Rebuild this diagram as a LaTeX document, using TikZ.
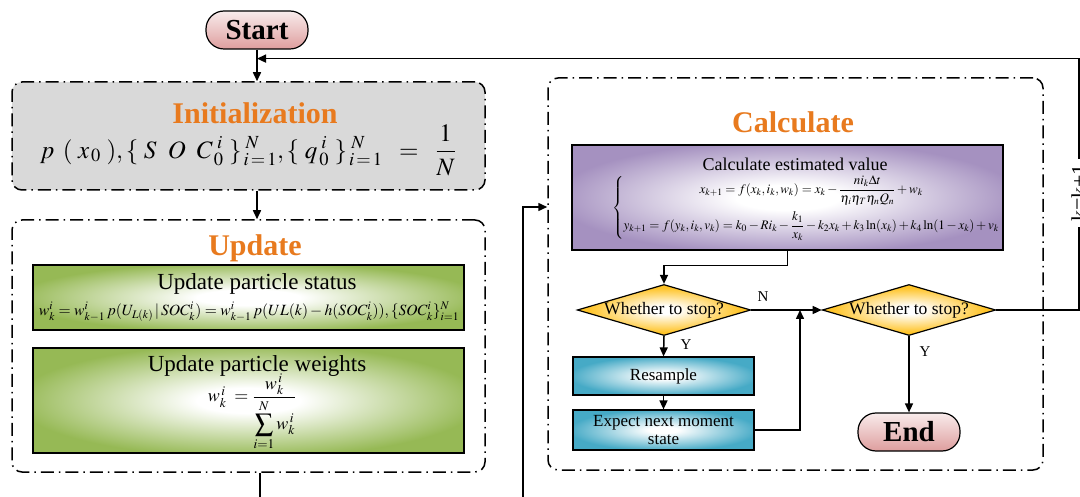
\documentclass[tikz,border=0pt]{standalone}
\usepackage{amsmath}
\usepackage{mathptmx}
\usepackage{fontspec}
\setmainfont{Liberation Serif}
\usepackage{tikz}
\usetikzlibrary{positioning, arrows.meta, shapes.geometric}
\definecolor{titleorange}{RGB}{232, 122, 30}
\definecolor{initgray}{RGB}{217, 217, 217}
\definecolor{leafgreen}{RGB}{150, 185, 85}
\definecolor{lilac}{RGB}{165, 145, 192}
\definecolor{seablue}{RGB}{70, 170, 198}
\definecolor{gold}{RGB}{255, 196, 40}
\definecolor{rosepink}{RGB}{222, 158, 158}
\pgfdeclareradialshading{glowgreen}{\pgfpointorigin}{color(0bp)=(white); color(6bp)=(white); color(27bp)=(leafgreen); color(100bp)=(leafgreen)}
\pgfdeclareradialshading{glowlilac}{\pgfpointorigin}{color(0bp)=(white); color(6bp)=(white); color(27bp)=(lilac); color(100bp)=(lilac)}
\pgfdeclareradialshading{glowblue}{\pgfpointorigin}{color(0bp)=(white); color(4bp)=(white); color(26bp)=(seablue); color(100bp)=(seablue)}
\pgfdeclareradialshading{glowgold}{\pgfpointorigin}{color(0bp)=(white); color(4bp)=(white); color(22bp)=(gold); color(100bp)=(gold)}

\tikzset{
  stage/.style={draw, line width=1.5pt, dash pattern=on 13pt off 5pt on 1.5pt off 5pt,
    rounded corners=10pt, inner sep=0pt},
  stagetitle/.style={text=titleorange, font=\fontsize{30}{32}\selectfont\bfseries},
  terminal/.style={draw, line width=1.2pt, rounded corners=18pt, top color=rosepink!20,
    bottom color=rosepink, minimum width=102pt, minimum height=38pt,
    font=\fontsize{29}{30}\selectfont\bfseries},
  stepgreen/.style={draw, line width=1.2pt, shade, shading=glowgreen, minimum width=431pt},
  steplilac/.style={draw, line width=1.2pt, shade, shading=glowlilac,
    minimum width=431pt, minimum height=105pt},
  stepblue/.style={draw, line width=1.2pt, shade, shading=glowblue,
    minimum width=181pt, inner sep=0pt, align=center, font=\fontsize{17}{19}\selectfont},
  query/.style={diamond, draw, line width=1.2pt, shade, shading=glowgold,
    aspect=3.4, inner sep=0pt, font=\fontsize{17.5}{19}\selectfont},
  answer/.style={font=\fontsize{15}{16}\selectfont},
  arr/.style={line width=1.5pt, -{Triangle[length=9pt, width=8pt]}},
  wire/.style={line width=1.5pt}
}

\begin{document}
\begin{tikzpicture}[x=1pt, y=1pt]
\path[use as bounding box] (0,0) rectangle (1080,496);
\clip (0,0) rectangle (1080,496);

% left column
\node[terminal] (start) at (257,466) {Start};
\node[stage, fill=initgray, minimum width=473pt, minimum height=108pt] (init) at (248.5,360) {};
\node[stagetitle] (initT) at (255,383) {Initialization};
\node[font=\fontsize{25}{27}\selectfont] (initF) at (248,346)
  {$p\;\,(\;x_{\,0}\;),\{\;S\;\;O\;\;C_{\,0}^{\;i}\;\}_{\,i\,=\,1}^{\;N},\{\;q_{\,0}^{\;i}\;\}_{\,i\,=\,1}^{\;N}\;\;=\;\;\dfrac{1}{N}$};

\node[stage, fill=white, minimum width=473pt, minimum height=252pt] (upd) at (248.5,150) {};
\node[stagetitle] (updT) at (255,248) {Update};
\node[stepgreen, minimum height=65pt] (sta) at (248.5,198.5) {};
\node[font=\fontsize{23}{25}\selectfont] (staT) at (257,212) {Update particle status};
\node[font=\fontsize{15.6}{17}\selectfont] (staF) at (249,184)
  {$w_k^i=w_{k-1}^i\,p(U_{L(k)}\,|\,SOC_k^i)=w_{k-1}^i\,p(UL(k)-h(SOC_k^i)),\{SOC_k^i\}_{i=1}^N$};
\node[stepgreen, minimum height=105pt] (wei) at (248.5,95.5) {};
\node[font=\fontsize{23}{25}\selectfont] (weiT) at (257,130) {Update particle weights};
\node[font=\fontsize{18}{20}\selectfont] (weiF) at (252,84)
  {$w_k^{\,i}\;=\dfrac{w_k^{\,i}}{\displaystyle\sum_{i=1}^{N}w_k^{\,i}}$};

% right column
\node[stage, fill=white, minimum width=495pt, minimum height=392pt] (calc) at (795.5,222) {};
\node[stagetitle] (calcT) at (793,374) {Calculate};
\node[steplilac] (est) at (787.5,298.5) {};
\node[font=\fontsize{18}{20}\selectfont] (estT) at (795,332) {Calculate estimated value};
\node[font=\fontsize{13}{14}\selectfont] (estF) at (806,288)
  {$\left\{\begin{array}{@{}c@{}}
    x_{k+1}=f(x_k,i_k,w_k)=x_k-\dfrac{n i_k\Delta t}{\eta_i\eta_T\eta_n Q_n}+w_k\\[14pt]
    y_{k+1}=f(y_k,i_k,v_k)=k_0-Ri_k-\dfrac{k_1}{x_k}-k_2x_k+k_3\ln(x_k)+k_4\ln(1-x_k)+v_k
  \end{array}\right.$};

\node[query] (dec1) at (664,186) {Whether to stop?};
\node[stepblue, minimum height=38pt] (res) at (663.5,120) {Resample};
\node[stepblue, minimum height=40pt] (exp) at (663.5,66) {Expect next moment\\[-1pt]state};
\node[query] (dec2) at (909,186) {Whether to stop?};
\node[terminal] (finish) at (909,64) {End};
\node[answer] (n1) at (763,199) {N};
\node[answer] (y1) at (686,151) {Y};
\node[answer] (y2) at (925,144) {Y};
\node[rotate=90, fill=white, inner xsep=5pt, font=\fontsize{22}{24}\selectfont] (kk) at (1079,303) {k=k+1};

\coordinate (low) at (523,-14);
\coordinate (jn) at (800,186);

% connectors
\draw[arr] (start.south) -- (start.south |- init.north);
\draw[arr] (init.south -| start.south) -- (upd.north -| start.south);
\draw[arr] ([xshift=11.5pt]upd.south) |- (low) |- ([yshift=67pt]calc.west);
\draw[arr] (est.south) -- ++(0,-15) -| (dec1.north);
\draw[arr] (dec1.east) -- (dec2.west);
\draw[arr] (dec1.south) -- (res.north);
\draw[arr] (res.south) -- (exp.north);
\draw[arr] (exp.east) -| (jn);
\draw[arr] (dec2.south) -- (finish.north);
\draw[wire] (dec2.east) -| (kk.west);
\draw[arr] (kk.east) |- ([yshift=-9pt]start.south);
\end{tikzpicture}
\end{document}
